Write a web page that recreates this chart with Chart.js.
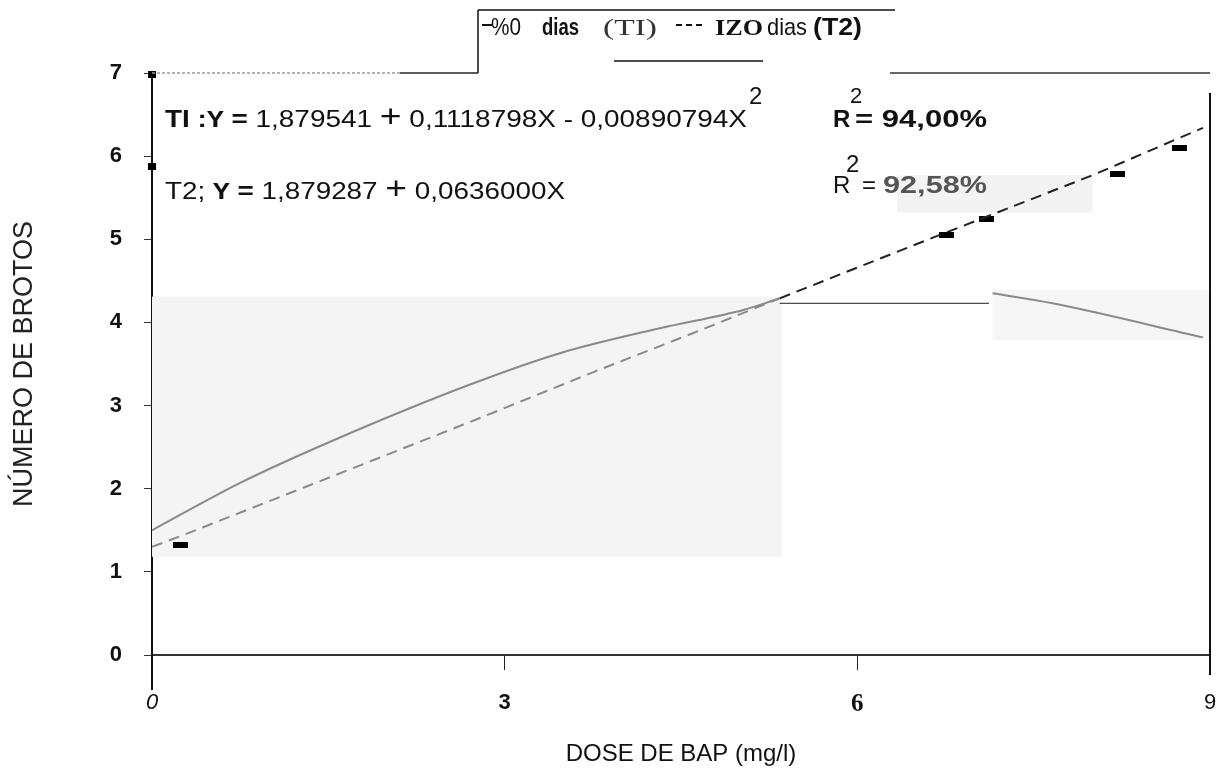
<!DOCTYPE html>
<html>
<head>
<meta charset="utf-8">
<style>
html, body { margin: 0; padding: 0; background: #fff; }
#wrap { width: 1224px; height: 782px; position: relative; }
</style>
<script src="https://cdn.jsdelivr.net/npm/chart.js"></script>
</head>
<body>
<div id="wrap"><canvas id="brotos" width="1224" height="782"></canvas></div>
<script>
// dados (dose de BAP em mg/l x número de brotos)
const t1Dose = [0, 0.75, 1.54, 2.70, 3.47, 4.32, 5.03, 5.34];
const t1Brotos = [1.50, 2.07, 2.58, 3.25, 3.63, 3.93, 4.15, 4.29];
const t1FimDose = [7.15, 7.66, 8.94];
const t1FimBrotos = [4.35, 4.23, 3.82];
const t2Dose = [0, 0.28, 1.32, 2.70, 3.75, 4.60, 5.34, 6.59, 8.00, 8.94];
const t2Brotos = [1.30, 1.45, 2.03, 2.80, 3.40, 3.87, 4.29, 4.99, 5.77, 6.34];
const ligacaoDose = [5.34, 7.12];
const ligacaoBrotos = [4.23, 4.23];
const marcaDose = [0, 0, 0.24, 6.76, 7.10, 8.21, 8.74];
const marcaBrotos = [6.98, 5.88, 1.32, 5.05, 5.24, 5.79, 6.10];
const xTicks = [0, 3, 6, 9];
const yTicks = [0, 1, 2, 3, 4, 5, 6, 7];

const SANS = '"Liberation Sans", Arial, sans-serif';
const SERIF = '"Liberation Serif", "Times New Roman", serif';
const MONO = '"Liberation Mono", "Courier New", monospace';

const pts = (xs, ys) => xs.map((x, i) => ({ x: x, y: ys[i] }));

// marcas pretas (retângulos) do original
function bloco(w, h) {
  const c = document.createElement('canvas');
  c.width = w; c.height = h;
  const g = c.getContext('2d');
  g.fillStyle = '#000';
  g.fillRect(0, 0, w, h);
  return c;
}
const blocoQuad = bloco(8, 7);
const blocoBarra = bloco(15, 6);

// texto com trechos de fontes diferentes, esticado para a largura lida
function richText(ctx, x, y, parts, width) {
  let total = 0;
  parts.forEach(p => { ctx.font = p.font; p.w = ctx.measureText(p.t).width; total += p.w; });
  const k = width ? width / total : 1;
  ctx.save();
  ctx.translate(x, y);
  ctx.scale(k, 1);
  ctx.textAlign = 'left';
  ctx.textBaseline = 'alphabetic';
  let cx = 0;
  parts.forEach(p => {
    ctx.font = p.font;
    ctx.fillStyle = p.color || '#111';
    ctx.fillText(p.t, cx, 0);
    cx += p.w;
  });
  ctx.restore();
}

function line(ctx, x1, y1, x2, y2, color, w, dash) {
  ctx.save();
  ctx.strokeStyle = color;
  ctx.lineWidth = w;
  ctx.setLineDash(dash || []);
  ctx.beginPath();
  ctx.moveTo(x1, y1);
  ctx.lineTo(x2, y2);
  ctx.stroke();
  ctx.restore();
}

// manchas cinzentas do original digitalizado (em unidades dos eixos)
const manchas = [
  { x0: 0, x1: 5.36, y0: 1.18, y1: 4.31, c: '#f4f4f4' },
  { x0: 7.15, x1: 9.0, y0: 3.79, y1: 4.39, c: '#f6f6f6' },
  { x0: 6.34, x1: 8.0, y0: 5.32, y1: 5.77, c: '#f3f3f3' }
];

const fundo = {
  id: 'fundo',
  beforeDatasetsDraw(chart) {
    const { ctx, scales: { x, y } } = chart;
    manchas.forEach(m => {
      const px0 = x.getPixelForValue(m.x0), px1 = x.getPixelForValue(m.x1);
      const py0 = y.getPixelForValue(m.y0), py1 = y.getPixelForValue(m.y1);
      ctx.fillStyle = m.c;
      ctx.fillRect(px0, py1, px1 - px0, py0 - py1);
    });
  }
};

const anotacoes = {
  id: 'anotacoes',
  afterDraw(chart) {
    const { ctx, chartArea: a } = chart;
    // moldura
    line(ctx, a.left, a.top, 400, a.top, '#9a9a9a', 1.5, [3, 2]);
    line(ctx, 400, a.top, 478, a.top, '#222', 1.5);
    line(ctx, 890, a.top, a.right, a.top, '#333', 1.5);
    line(ctx, a.right, a.top + 20, a.right, a.bottom + 20, '#111', 2);
    line(ctx, a.left, a.bottom, a.left, a.bottom + 35, '#111', 2);
    // caixa da legenda
    line(ctx, 478, 10, 478, a.top, '#111', 1.5);
    line(ctx, 478, 10, 895, 10, '#111', 1.5);
    line(ctx, 614, 61, 763, 61, '#111', 1.5);
    line(ctx, 482, 25, 492, 25, '#111', 2);
    richText(ctx, 491, 35, [{ t: '%0', font: `23px ${SANS}` }], 30);
    richText(ctx, 542, 35, [{ t: 'dias', font: `bold 24px ${SANS}` }], 37);
    richText(ctx, 603, 35, [{ t: '(TI)', font: `24px ${SERIF}`, color: '#333' }], 54);
    line(ctx, 676, 25, 703, 25, '#111', 2, [6, 4]);
    richText(ctx, 715, 35, [{ t: 'IZO', font: `bold 23px ${SERIF}` }], 48);
    richText(ctx, 767, 35, [{ t: 'dias', font: `24px ${SANS}` }], 40);
    richText(ctx, 813, 35, [{ t: '(T2)', font: `bold 24px ${SANS}` }], 49);

    // equações
    richText(ctx, 165, 127, [
      { t: 'TI', font: `bold 24px ${SANS}` },
      { t: ' :', font: `bold 24px ${SANS}` },
      { t: 'Y', font: `bold 24px ${MONO}` },
      { t: ' = ', font: `bold 24px ${SANS}` },
      { t: '1,879541 ', font: `24px ${SANS}` },
      { t: '+', font: `32px ${SANS}` },
      { t: ' 0,1118798X - 0,00890794X', font: `24px ${SANS}` }
    ], 582);
    richText(ctx, 749, 104, [{ t: '2', font: `24px ${SANS}` }]);
    richText(ctx, 165, 199, [
      { t: 'T2; ', font: `24px ${SANS}` },
      { t: 'Y', font: `bold 24px ${MONO}` },
      { t: ' = ', font: `bold 24px ${SANS}` },
      { t: '1,879287 ', font: `24px ${SANS}` },
      { t: '+', font: `32px ${SANS}` },
      { t: ' 0,0636000X', font: `24px ${SANS}` }
    ], 400);

    richText(ctx, 833, 127, [{ t: 'R', font: `bold 24px ${SANS}` }]);
    richText(ctx, 850, 103, [{ t: '2', font: `22px ${SANS}` }]);
    richText(ctx, 855, 127, [{ t: '= 94,00%', font: `bold 24px ${SANS}` }], 132);
    richText(ctx, 833, 193, [{ t: 'R', font: `24px ${SANS}` }]);
    richText(ctx, 846, 172, [{ t: '2', font: `24px ${SANS}` }]);
    richText(ctx, 862, 193, [{ t: '=', font: `24px ${SANS}` }]);
    richText(ctx, 883, 193, [{ t: '92,58%', font: `bold 24px ${SANS}`, color: '#555' }], 104);
  }
};

const tickFonts = [
  { family: SANS, size: 22, style: 'italic' },
  { family: SANS, size: 22, weight: 'bold' },
  { family: SERIF, size: 25, weight: 'bold' },
  { family: SANS, size: 22 }
];

new Chart(document.getElementById('brotos'), {
  type: 'line',
  data: {
    datasets: [
      {
        label: '%0 dias (TI)',
        data: pts(t1Dose, t1Brotos),
        borderColor: '#8a8a8a',
        borderWidth: 2,
        pointRadius: 0,
        cubicInterpolationMode: 'monotone'
      },
      {
        label: '%0 dias (TI) fim',
        data: pts(t1FimDose, t1FimBrotos),
        borderColor: '#8a8a8a',
        borderWidth: 2,
        pointRadius: 0,
        cubicInterpolationMode: 'monotone'
      },
      {
        label: 'IZO dias (T2)',
        data: pts(t2Dose, t2Brotos),
        borderColor: '#8a8a8a',
        borderWidth: 2,
        borderDash: [11, 7],
        pointRadius: 0,
        tension: 0,
        segment: {
          borderColor: c => c.p0.parsed.x >= 5.3 ? '#222' : '#8a8a8a'
        }
      },
      {
        label: 'ligação',
        data: pts(ligacaoDose, ligacaoBrotos),
        borderColor: '#222',
        borderWidth: 1,
        pointRadius: 0
      },
      {
        label: 'marcas',
        data: pts(marcaDose, marcaBrotos),
        showLine: false,
        clip: false,
        pointStyle: c => c.dataIndex < 2 ? blocoQuad : blocoBarra,
        pointRadius: 5
      }
    ]
  },
  options: {
    responsive: false,
    animation: false,
    layout: { padding: { left: 0, top: 73, right: 14, bottom: 0 } },
    plugins: {
      legend: { display: false },
      tooltip: { enabled: false }
    },
    scales: {
      x: {
        type: 'linear',
        min: 0,
        max: 9,
        afterBuildTicks: s => { s.ticks = xTicks.map(v => ({ value: v })); },
        afterFit: s => { s.height = 127; s.paddingLeft = 0; s.paddingRight = 0; },
        border: { display: true, color: '#333', width: 2 },
        grid: {
          drawOnChartArea: false,
          drawTicks: true,
          tickLength: 15,
          color: c => (c.tick && (c.tick.value === 3 || c.tick.value === 6)) ? '#222' : 'rgba(0,0,0,0)'
        },
        ticks: {
          padding: 20,
          color: '#111',
          font: c => tickFonts[c.index] || tickFonts[3],
          callback: v => String(v)
        },
        title: {
          display: true,
          text: 'DOSE DE BAP (mg/l)',
          color: '#111',
          font: { family: SANS, size: 24 },
          padding: { top: 0, bottom: 13 }
        }
      },
      y: {
        type: 'linear',
        min: 0,
        max: 7,
        afterBuildTicks: s => { s.ticks = yTicks.map(v => ({ value: v })); },
        afterFit: s => { s.width = 152; },
        border: { display: true, color: '#111', width: 2 },
        grid: {
          drawOnChartArea: false,
          drawTicks: true,
          tickLength: 8,
          color: '#333'
        },
        ticks: {
          padding: 22,
          color: '#111',
          font: { family: SANS, size: 22, weight: 'bold' }
        },
        title: {
          display: true,
          text: 'NÚMERO DE BROTOS',
          color: '#222',
          font: { family: SANS, size: 27 },
          padding: { top: 8, bottom: 0 }
        }
      }
    }
  },
  plugins: [fundo, anotacoes]
});
</script>
</body>
</html>
